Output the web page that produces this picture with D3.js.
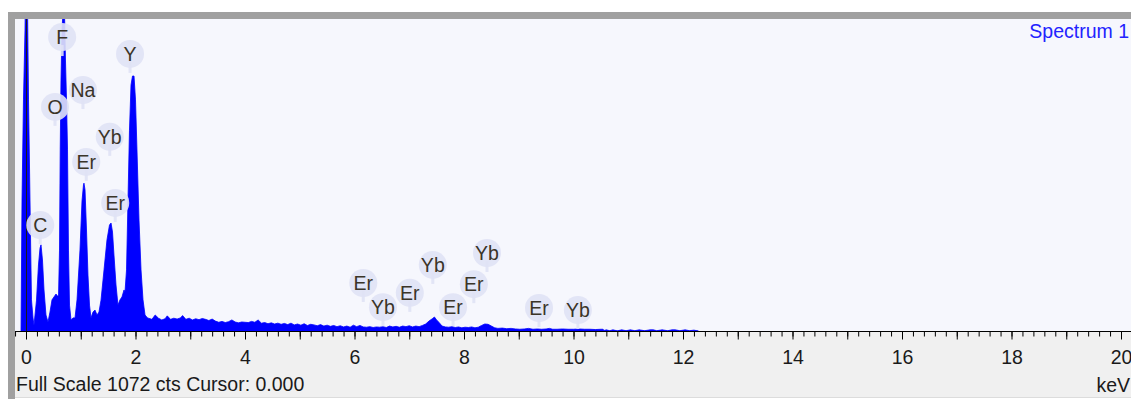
<!DOCTYPE html>
<html lang="en">
<head>
    <meta charset="UTF-8">
    <title>Spectrum 1</title>
    <script src="https://cdn.jsdelivr.net/npm/d3@7"></script>
    <style>
        body{margin:0;background:#fff;}
        text{font-family:"Liberation Sans",Arial,sans-serif;}
    </style>
</head>
<body>
<svg></svg>
<script>
    //spectrum outline around the low energy peaks [keV, counts]
    var peakTrace = [
        [-0.091,0],[-0.073,450],[-0.046,794],[-0.018,1034],[0,1300],[0.018,1300],[0.046,794],
        [0.073,450],[0.100,107],[0.128,45],[0.146,20],
        [0.192,106],[0.228,227],[0.256,285],[0.274,296],[0.301,244],[0.329,141],[0.365,55],[0.402,31],
        [0.438,65],[0.475,107],[0.511,117],[0.548,127],[0.575,120],
        [0.594,120],[0.612,278],[0.625,625],[0.639,862],[0.658,1034],[0.676,1100],[0.703,1100],
        [0.721,931],[0.740,794],[0.758,625],[0.776,278],[0.795,89],[0.822,38],[0.858,45],[0.895,45],
        [0.932,107],[0.986,278],[1.023,447],[1.050,502],[1.059,508],[1.078,485],[1.105,347],
        [1.132,192],[1.160,89],[1.187,45],[1.224,65],[1.260,72],[1.297,55],[1.333,65],
        [1.370,106],[1.425,210],[1.479,313],[1.525,364],[1.553,371],[1.580,340],[1.607,261],
        [1.644,158],[1.680,89],[1.717,107],[1.753,117],[1.790,141],
        [1.808,134],[1.836,210],[1.863,450],[1.890,690],[1.918,845],[1.945,876],[1.973,876],
        [2.000,794],[2.027,622],[2.064,381],[2.101,210],[2.137,107],[2.174,55]
    ];
    //background and L lines [keV, counts]
    var tailTrace = [
        [2.22,45],[2.30,40],[2.36,55],[2.42,44],[2.48,38],[2.54,42],[2.58,52],[2.64,40],[2.70,44],
        [2.76,41],[2.82,45],[2.86,53],[2.92,40],[2.98,44],[3.04,38],[3.10,42],[3.16,39],[3.22,43],
        [3.28,40],[3.34,36],[3.40,41],[3.46,34],[3.52,30],[3.58,33],[3.64,29],[3.70,32],[3.76,38],
        [3.82,31],[3.88,28],[3.94,31],[4.00,30],[4.06,29],[4.12,33],[4.18,30],[4.24,38],[4.30,27],
        [4.36,29],[4.42,25],[4.48,28],[4.54,24],[4.60,27],[4.66,23],[4.72,26],[4.78,22],[4.84,27],
        [4.90,21],[4.96,24],[5.02,20],[5.08,25],[5.14,19],[5.20,23],[5.26,21],[5.32,18],[5.38,22],
        [5.44,17],[5.50,20],[5.56,16],[5.62,19],[5.68,15],[5.74,18],[5.80,14],[5.86,17],[5.92,13],
        [5.98,20],[6.04,15],[6.10,19],[6.16,14],[6.22,13],[6.28,15],[6.34,12],[6.40,14],[6.46,13],
        [6.52,15],[6.58,12],[6.64,17],[6.70,14],[6.76,16],[6.82,13],[6.88,17],[6.94,15],[7.00,18],
        [7.06,14],[7.12,17],[7.18,15],[7.24,19],[7.30,24],[7.36,34],[7.42,42],[7.46,48],[7.50,38],
        [7.54,30],[7.60,17],[7.66,14],[7.72,13],[7.78,15],[7.84,12],[7.90,14],[7.96,11],[8.02,13],
        [8.08,12],[8.14,14],[8.20,11],[8.26,13],[8.32,19],[8.38,24],[8.44,23],[8.50,17],[8.56,11],
        [8.62,9],[8.70,10],[8.78,8],[8.86,9],[8.94,7],[9.02,6],[9.10,7],[9.18,9],[9.26,6],[9.34,7],
        [9.42,6],[9.50,7],[9.56,9],[9.62,6],[9.70,6],[9.80,7],[9.90,6],[10.00,6],[10.10,7],[10.20,6],
        [10.30,6],[10.40,5],[10.50,6],[10.54,6],[10.56,2],[10.60,4],[10.66,1],[10.72,4],[10.80,0.5],
        [10.88,4],[10.96,1],[11.04,4],[11.12,1],[11.20,4],[11.30,1],[11.40,4],[11.46,4],[11.52,1],
        [11.62,4],[11.72,1],[11.80,4],[11.86,4],[11.94,1],[12.04,4],[12.12,1],[12.20,3],[12.28,0]
    ];
    //peak labels
    var labelNames = ["C","O","F","Na","Er","Yb","Er","Y","Er","Yb","Er","Yb","Er","Er","Yb","Er","Yb"];
    var labelKeV   = [0.26,0.53,0.66,1.04,1.10,1.53,1.63,1.90,6.16,6.52,7.01,7.43,7.80,8.18,8.42,9.37,10.08];
    var labelCts   = [364,770,1010,828,581,667,440,952,165,82,131,227,82,161,268,79,72];
    var majorTicks = d3.range(0,21,1);
    var minorTicks = d3.range(-1,101,1).map(function(i){return i*0.2;});
    var fullScale = 1072;

    var W = 1131, H = 399;
    var plot = {left:15, top:19, right:1131, bottom:331};
    var svg = d3.select("svg").attr("width",W).attr("height",H);

    var x = d3.scaleLinear().domain([0,20]).range([26,1121]);
    var y = d3.scaleLinear().domain([0,fullScale]).range([plot.bottom,plot.top]);

    //frame
    svg.append("rect").attr("x",8).attr("y",12).attr("width",W-8).attr("height",7).attr("fill","#a0a0a0");
    svg.append("rect").attr("x",8).attr("y",12).attr("width",7).attr("height",H-12).attr("fill","#a0a0a0");
    svg.append("rect").attr("x",plot.left).attr("y",plot.top)
        .attr("width",plot.right-plot.left).attr("height",plot.bottom-plot.top).attr("fill","#f6f7fd");
    svg.append("rect").attr("x",plot.left).attr("y",plot.bottom)
        .attr("width",plot.right-plot.left).attr("height",H-plot.bottom-2).attr("fill","#f0f0f0");
    svg.append("line").attr("x1",plot.left).attr("x2",W).attr("y1",H-1.5).attr("y2",H-1.5)
        .attr("stroke","#dcdcdc");

    svg.append("clipPath").attr("id","clip").append("rect")
        .attr("x",plot.left).attr("y",plot.top)
        .attr("width",plot.right-plot.left).attr("height",plot.bottom-plot.top);

    var spectrum = peakTrace.concat(tailTrace);
    var area = d3.area()
        .x(function(d){return x(d[0]);})
        .y0(plot.bottom)
        .y1(function(d){return y(d[1]);});
    var g = svg.append("g").attr("clip-path","url(#clip)");
    g.append("path").datum(spectrum)
        .attr("d",area)
        .attr("fill","#0000ff")
        .attr("stroke","#0000ff")
        .attr("stroke-width",0.8);

    //cursor
    g.append("line").attr("x1",x(0)+0.5).attr("x2",x(0)+0.5)
        .attr("y1",plot.top).attr("y2",plot.bottom)
        .attr("stroke","#1a1a1a").attr("stroke-width",1);

    //peak labels
    var labels = g.append("g").selectAll("g")
        .data(labelNames.map(function(n,i){return {name:n,e:labelKeV[i],c:labelCts[i]};}))
        .enter().append("g")
        .attr("transform",function(d){return "translate("+x(d.e)+","+y(d.c)+")";});
    labels.append("rect").attr("x",-1.5).attr("y",8).attr("width",3).attr("height",11)
        .attr("fill","#e0e2f5").attr("opacity",0.9);
    labels.append("circle").attr("r",14).attr("fill","#e0e2f5").attr("opacity",0.9);
    labels.append("text").attr("text-anchor","middle").attr("y",7)
        .attr("font-size",19.5).attr("fill","#3a3428")
        .text(function(d){return d.name;});

    //x axis
    svg.append("line").attr("x1",plot.left).attr("x2",W)
        .attr("y1",plot.bottom+0.5).attr("y2",plot.bottom+0.5).attr("stroke","#000");
    var minorAxis = svg.append("g").attr("transform","translate(0,"+(plot.bottom+0.5)+")")
        .call(d3.axisBottom(x).tickValues(minorTicks).tickSize(5).tickFormat(""));
    var majorAxis = svg.append("g").attr("transform","translate(0,"+(plot.bottom+0.5)+")")
        .call(d3.axisBottom(x).tickValues(majorTicks).tickSize(8).tickPadding(11)
            .tickFormat(function(d){return d%2===0 ? d : "";}));
    svg.selectAll(".domain").remove();
    svg.selectAll(".tick line").attr("stroke","#000");
    majorAxis.selectAll("text").attr("font-size",19.5).attr("fill","#1a1a1a")
        .style("font-family","'Liberation Sans',Arial,sans-serif");

    svg.append("text").attr("x",16).attr("y",391).attr("font-size",19.5).attr("fill","#1a1a1a")
        .text("Full Scale " + fullScale + " cts Cursor: 0.000");
    svg.append("text").attr("x",1130).attr("y",392).attr("text-anchor","end")
        .attr("font-size",19.5).attr("fill","#1a1a1a").text("keV");
    svg.append("text").attr("x",1129).attr("y",38).attr("text-anchor","end")
        .attr("font-size",19.5).attr("fill","#2323ff").text("Spectrum 1");
</script>
</body>
</html>
